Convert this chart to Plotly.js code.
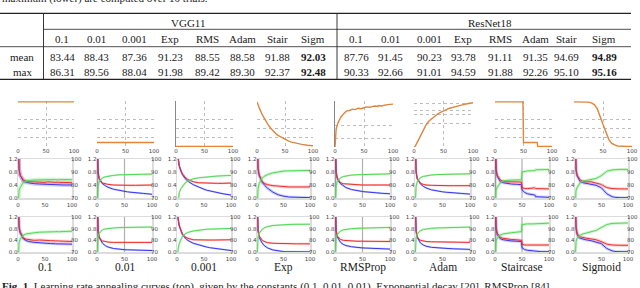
<!DOCTYPE html>
<html><head><meta charset="utf-8">
<script src="https://cdn.plot.ly/plotly-3.0.1.min.js"></script>
<style>html,body{margin:0;padding:0;background:#fff;overflow:hidden}#chart{width:640px;height:288px}</style>
</head><body><div id="chart"></div>
<script>
// ---------- table data ----------
const methodsShort = ['0.1','0.01','0.001','Exp','RMS','Adam','Stair','Sigm'];
const vggMean = ['83.44','88.43','87.36','91.23','88.55','88.58','91.88','92.03'];
const vggMax  = ['86.31','89.56','88.04','91.98','89.42','89.30','92.37','92.48'];
const resMean = ['87.76','91.45','90.23','93.78','91.11','91.35','94.69','94.89'];
const resMax  = ['90.33','92.66','91.01','94.59','91.88','92.26','95.10','95.16'];
const methodsLong = ['0.1','0.01','0.001','Exp','RMSProp','Adam','Staircase','Sigmoid'];

// ---------- learning-rate curves (top row) ----------
const lrEpochs = [0,2,5,10,15,20,25,30,35,40,45,49,50,55,60,65,70,74,75,80,90,100];
const lrConst01  = [0.1,0.1,0.1,0.1,0.1,0.1,0.1,0.1,0.1,0.1,0.1,0.1,0.1,0.1,0.1,0.1,0.1,0.1,0.1,0.1,0.1,0.1];
const lrConst001 = [0.01,0.01,0.01,0.01,0.01,0.01,0.01,0.01,0.01,0.01,0.01,0.01,0.01,0.01,0.01,0.01,0.01,0.01,0.01,0.01,0.01,0.01];
const lrConst0001= [0.001,0.001,0.001,0.001,0.001,0.001,0.001,0.001,0.001,0.001,0.001,0.001,0.001,0.001,0.001,0.001,0.001,0.001,0.001,0.001,0.001,0.001];
const lrExp  = [0.1,0.093,0.084,0.07,0.058,0.049,0.041,0.034,0.028,0.024,0.02,0.017,0.0165,0.014,0.0115,0.0097,0.008,0.007,0.0068,0.0057,0.004,0.0027];
const lrRMS  = [0,0.04,0.053,0.066,0.074,0.08,0.081,0.084,0.083,0.086,0.085,0.088,0.087,0.089,0.088,0.09,0.091,0.09,0.092,0.091,0.094,0.095];
const lrAdam = [0,0.0015,0.009,0.023,0.036,0.048,0.057,0.063,0.069,0.073,0.077,0.08,0.08,0.083,0.086,0.088,0.09,0.092,0.092,0.093,0.096,0.098];
const lrStair= [0.1,0.1,0.1,0.1,0.1,0.1,0.1,0.1,0.1,0.1,0.1,0.1,0.01,0.01,0.01,0.01,0.01,0.01,0.001,0.001,0.001,0.001];
const lrSig  = [0.1,0.1,0.1,0.1,0.1,0.0998,0.0995,0.098,0.094,0.085,0.07,0.054,0.05,0.032,0.017,0.008,0.004,0.0025,0.0022,0.0015,0.0011,0.001];
const lrSeries = [lrConst01,lrConst001,lrConst0001,lrExp,lrRMS,lrAdam,lrStair,lrSig];

// ---------- training curves ----------
const epochs = [0,1,2,4,7,10,15,20,30,40,49,50,55,60,70,74,75,85,100];
// VGG11
const vgg01_train = [2.3,1.15,0.9,0.7,0.58,0.52,0.48,0.46,0.44,0.43,0.42,0.42,0.415,0.41,0.41,0.405,0.405,0.40,0.40];
const vgg01_test  = [2.3,1.1,0.85,0.7,0.6,0.55,0.52,0.5,0.5,0.49,0.49,0.48,0.5,0.49,0.48,0.49,0.48,0.48,0.47];
const vgg01_acc   = [60,74,76,78,80.5,82,83,83.5,83.8,84,84,84.2,83.8,84.1,84.2,83.9,84.1,84.2,84.1];
const vgg001_train= [2.3,1.1,0.8,0.6,0.5,0.44,0.38,0.33,0.27,0.23,0.2,0.2,0.19,0.18,0.17,0.16,0.16,0.14,0.115];
const vgg001_test = [2.3,1.0,0.75,0.6,0.5,0.46,0.43,0.42,0.4,0.39,0.39,0.39,0.39,0.39,0.39,0.39,0.39,0.39,0.4];
const vgg001_acc  = [60,75,79,82.5,84.5,85.5,86.3,86.8,87.4,87.8,88,88,88,88.1,88.2,88.2,88.2,88.3,88.4];
const vgg0001_train=[2.3,1.5,1.25,1.0,0.82,0.72,0.6,0.52,0.41,0.33,0.27,0.27,0.24,0.22,0.18,0.17,0.165,0.13,0.09];
const vgg0001_test= [2.3,1.5,1.25,1.0,0.83,0.75,0.64,0.57,0.5,0.47,0.46,0.46,0.46,0.46,0.45,0.45,0.45,0.45,0.46];
const vgg0001_acc = [55,62,68,74,77,79,81.5,83,84.7,85.5,86,86,86.3,86.5,86.8,86.9,86.9,87.1,87.4];
const vggExp_train= [2.3,1.2,0.9,0.7,0.56,0.48,0.38,0.3,0.18,0.1,0.06,0.06,0.045,0.03,0.02,0.018,0.017,0.012,0.01];
const vggExp_test = [2.3,1.2,0.9,0.72,0.58,0.5,0.44,0.41,0.38,0.36,0.35,0.35,0.345,0.34,0.34,0.34,0.34,0.34,0.34];
const vggExp_acc  = [60,73,77,81,84,85.5,87,88,89.3,90.2,90.7,90.7,90.8,90.9,91,91.1,91.1,91.1,91.2];
const vggRMS_train= [2.3,1.1,0.8,0.62,0.5,0.44,0.37,0.32,0.26,0.22,0.2,0.2,0.19,0.18,0.16,0.155,0.155,0.145,0.13];
const vggRMS_test = [2.3,1.05,0.8,0.62,0.52,0.47,0.44,0.43,0.41,0.41,0.4,0.4,0.4,0.4,0.4,0.4,0.4,0.4,0.4];
const vggRMS_acc  = [60,75,79,82.5,84.5,85.5,86.5,87,87.6,87.9,88.1,88.1,88.1,88.2,88.3,88.3,88.3,88.4,88.6];
const vggAdam_train=[2.3,1.1,0.8,0.6,0.49,0.43,0.36,0.31,0.25,0.21,0.19,0.19,0.18,0.17,0.155,0.15,0.15,0.14,0.12];
const vggAdam_test= [2.3,1.05,0.8,0.6,0.5,0.45,0.42,0.4,0.39,0.38,0.38,0.38,0.38,0.38,0.38,0.38,0.38,0.38,0.38];
const vggAdam_acc = [60,75,79,82.5,84.5,85.7,86.6,87.1,87.7,88,88.2,88.2,88.2,88.3,88.4,88.4,88.4,88.5,88.6];
const vggStair_train=[2.3,1.15,0.88,0.68,0.56,0.5,0.47,0.45,0.43,0.42,0.41,0.25,0.17,0.13,0.1,0.09,0.04,0.025,0.02];
const vggStair_test= [2.3,1.1,0.85,0.7,0.6,0.55,0.52,0.5,0.5,0.5,0.49,0.32,0.29,0.29,0.31,0.31,0.29,0.28,0.28];
const vggStair_acc = [60,74,76,78,80.5,82,83,83.5,83.8,84,84,90,90.6,90.8,91,91,91.7,91.8,91.9];
const vggSig_train= [2.3,1.15,0.88,0.68,0.56,0.5,0.47,0.45,0.43,0.39,0.32,0.31,0.22,0.13,0.04,0.025,0.022,0.01,0.01];
const vggSig_test = [2.3,1.1,0.85,0.7,0.6,0.55,0.52,0.5,0.5,0.47,0.42,0.41,0.36,0.32,0.29,0.285,0.285,0.28,0.28];
const vggSig_acc  = [60,74,76,78,80.5,82,83,83.5,84,85,87,87.3,89,90.6,91.6,91.8,91.8,92,92];
// ResNet18
const res01_train = [2.3,1.1,0.85,0.65,0.52,0.45,0.39,0.36,0.33,0.31,0.3,0.3,0.295,0.29,0.28,0.28,0.28,0.275,0.27];
const res01_test  = [2.3,1.1,0.85,0.7,0.56,0.48,0.44,0.42,0.4,0.41,0.39,0.4,0.38,0.39,0.38,0.37,0.38,0.37,0.36];
const res01_acc   = [60,74,78,81,83,84.5,85.5,86,86.5,87,87,87.2,86.8,87.2,87.4,87.5,87.3,87.6,87.8];
const res001_train= [2.3,1.0,0.7,0.5,0.38,0.3,0.22,0.17,0.12,0.09,0.08,0.08,0.075,0.07,0.06,0.058,0.058,0.052,0.05];
const res001_test = [2.3,1.0,0.72,0.52,0.42,0.38,0.35,0.34,0.33,0.33,0.33,0.33,0.33,0.33,0.33,0.33,0.33,0.33,0.33];
const res001_acc  = [60,78,83,86,88,89,89.8,90.2,90.6,90.9,91,91,91.1,91.1,91.2,91.2,91.2,91.3,91.4];
const res0001_train=[2.3,1.4,1.15,0.9,0.72,0.6,0.48,0.4,0.3,0.24,0.19,0.19,0.17,0.15,0.12,0.11,0.11,0.08,0.05];
const res0001_test= [2.3,1.4,1.15,0.92,0.75,0.62,0.52,0.47,0.42,0.41,0.41,0.41,0.41,0.41,0.41,0.41,0.41,0.41,0.42];
const res0001_acc = [55,64,72,77,81,83.5,85.5,86.8,88,88.8,89.3,89.3,89.5,89.6,89.8,89.8,89.8,90,90.2];
const resExp_train= [2.3,1.0,0.72,0.5,0.37,0.3,0.2,0.14,0.07,0.03,0.015,0.015,0.01,0.008,0.006,0.005,0.005,0.005,0.005];
const resExp_test = [2.3,1.0,0.75,0.55,0.45,0.4,0.35,0.32,0.3,0.29,0.28,0.28,0.28,0.28,0.28,0.28,0.28,0.28,0.28];
const resExp_acc  = [60,78,83,86,88,89.5,91,91.8,92.7,93.2,93.5,93.5,93.55,93.6,93.7,93.7,93.7,93.75,93.8];
const resRMS_train= [2.3,1.0,0.72,0.52,0.4,0.33,0.26,0.22,0.18,0.15,0.14,0.14,0.135,0.13,0.12,0.118,0.118,0.11,0.1];
const resRMS_test = [2.3,1.0,0.75,0.55,0.47,0.43,0.4,0.39,0.38,0.37,0.37,0.37,0.37,0.37,0.37,0.365,0.365,0.36,0.36];
const resRMS_acc  = [60,78,82,85,87,88,89,89.5,90,90.3,90.5,90.5,90.6,90.7,90.8,90.8,90.8,90.9,91.1];
const resAdam_train=[2.3,1.0,0.7,0.5,0.38,0.31,0.24,0.2,0.16,0.14,0.13,0.13,0.125,0.12,0.11,0.105,0.105,0.1,0.09];
const resAdam_test= [2.3,1.0,0.72,0.53,0.44,0.4,0.37,0.36,0.35,0.345,0.34,0.34,0.34,0.34,0.34,0.34,0.34,0.335,0.33];
const resAdam_acc = [60,78,82.5,85.5,87.3,88.3,89.3,89.8,90.3,90.6,90.8,90.8,90.9,91,91.1,91.1,91.1,91.2,91.35];
const resStair_train=[2.3,1.1,0.8,0.6,0.5,0.45,0.42,0.4,0.38,0.37,0.36,0.15,0.08,0.06,0.045,0.04,0.02,0.012,0.01];
const resStair_test= [2.3,1.1,0.85,0.65,0.55,0.5,0.47,0.45,0.43,0.42,0.4,0.27,0.24,0.24,0.25,0.25,0.24,0.24,0.24];
const resStair_acc = [60,75,79,82,83.5,84.5,85.5,86,86.5,87,87.5,93.5,94,94.1,94.1,94.1,94.6,94.7,94.7];
const resSig_train= [2.3,1.1,0.8,0.6,0.5,0.47,0.44,0.42,0.39,0.35,0.29,0.28,0.2,0.12,0.04,0.02,0.018,0.01,0.01];
const resSig_test = [2.3,1.1,0.85,0.65,0.56,0.52,0.49,0.48,0.45,0.42,0.36,0.35,0.3,0.27,0.24,0.235,0.235,0.23,0.23];
const resSig_acc  = [60,75,79,82,83.5,84.5,85.5,86,87,88.5,90.8,91,92.3,93.5,94.5,94.6,94.6,94.9,94.9];

const curves = [
  [vgg01_train,vgg01_test,vgg01_acc],[vgg001_train,vgg001_test,vgg001_acc],[vgg0001_train,vgg0001_test,vgg0001_acc],[vggExp_train,vggExp_test,vggExp_acc],
  [vggRMS_train,vggRMS_test,vggRMS_acc],[vggAdam_train,vggAdam_test,vggAdam_acc],[vggStair_train,vggStair_test,vggStair_acc],[vggSig_train,vggSig_test,vggSig_acc],
  [res01_train,res01_test,res01_acc],[res001_train,res001_test,res001_acc],[res0001_train,res0001_test,res0001_acc],[resExp_train,resExp_test,resExp_acc],
  [resRMS_train,resRMS_test,resRMS_acc],[resAdam_train,resAdam_test,resAdam_acc],[resStair_train,resStair_test,resStair_acc],[resSig_train,resSig_test,resSig_acc]
];

// ---------- layout helpers (styling only) ----------
const W=640,H=288;
const px=x=>x/W, py=y=>1-y/H;
const serif='Liberation Serif, Times New Roman, serif';
const ink='#1a1a1a';
const tickFont={family:'DejaVu Sans, sans-serif',size:5.5,color:'#444'};
const lrX=[[18,74],[97,154],[176,233],[257,313],[335,393],[414,473],[495,552],[574,632]];
const lrGrid=[[0,0.02,0.04,0.06],[0,0.02,0.04,0.06],[0,0.02,0.04,0.06],[0,0.02,0.04,0.06],[0,0.018,0.047],[0,0.053,0.071,0.082,0.096],[0,0.02,0.04,0.06],[0,0.02,0.04,0.06]];
const lrLeftLine=[false,false,true,false,true,false,false,false];
const bx=[[18,72],[97,152],[177,231],[257,310],[335,390],[415,470],[495,549],[575,628]];
const rowY=[[159,198],[217,252]];
const bandW=[4,2,2,3,2,2,3,3, 3,2,2,2,2,2,3,3];
const vmark=[false,true,false,false,true,false,true,false, false,true,false,false,true,false,true,false];

const data=[];
const layout={width:640,height:288,margin:{l:0,r:0,t:0,b:0},paper_bgcolor:'#fff',plot_bgcolor:'rgba(0,0,0,0)',showlegend:false,annotations:[],shapes:[]};

// top LR charts
lrSeries.forEach((s,k)=>{
  const n=k+1;
  layout['xaxis'+n]={domain:[px(lrX[k][0]),px(lrX[k][1])],anchor:'y'+n,range:[0,100],tickvals:[0,50,100],ticks:'',ticklabelstandoff:-1,showgrid:true,gridcolor:'#bdbdbd',griddash:'dot',gridwidth:1,zeroline:false,showline:false,tickfont:tickFont,fixedrange:true};
  layout['yaxis'+n]={domain:[py(147),py(101)],anchor:'x'+n,range:[0,0.102],tickvals:lrGrid[k],showticklabels:false,ticks:'',showgrid:true,gridcolor:'#bdbdbd',griddash:'dot',gridwidth:1,zeroline:false,showline:lrLeftLine[k],linecolor:'#888',linewidth:1.5,fixedrange:true};
  data.push({x:lrEpochs,y:s,xaxis:'x'+n,yaxis:'y'+n,mode:'lines',line:{color:'#e0853e',width:1.4},hoverinfo:'skip'});
});

// training curves
const colBlue='rgb(55,55,240)', colRed='rgb(238,45,45)', colGreen='rgb(85,215,85)';
const bandBlue='rgba(90,90,245,0.28)', bandRed='rgba(245,80,80,0.28)', bandGreen='rgba(100,220,100,0.3)';
curves.forEach((c,j)=>{
  const n=9+j, m=25+j, row=j<8?0:1, col=j%8;
  layout['xaxis'+n]={domain:[px(bx[col][0]),px(bx[col][1])],anchor:'y'+n,range:[0,100],tickvals:[0,50,100],ticks:'',ticklabelstandoff:1,showgrid:false,zeroline:false,showline:true,mirror:true,linecolor:'#dcdcdc',linewidth:1.5,tickfont:tickFont,fixedrange:true};
  layout['yaxis'+n]={domain:[py(rowY[row][1]),py(rowY[row][0])],anchor:'x'+n,range:[0,1.2],tickvals:[0,0.4,0.8,1.2],ticktext:['0.0','0.4','0.8','1.2'],ticks:'',ticklabelstandoff:-2,showgrid:false,zeroline:false,showline:true,mirror:true,linecolor:'#dcdcdc',linewidth:1.5,tickfont:tickFont,fixedrange:true};
  layout['yaxis'+m]={overlaying:'y'+n,anchor:'x'+n,side:'right',range:[70,100],tickvals:[70,80,90,100],ticks:'',ticklabelstandoff:-2,showgrid:false,zeroline:false,showline:false,tickfont:tickFont,fixedrange:true};
  if(vmark[j]){
    layout.shapes.push({type:'line',xref:'x'+n,yref:'y'+n+' domain',x0:50,x1:50,y0:0,y1:1,line:{color:'#b0b0b0',width:1.2},layer:'below'});
    layout.shapes.push({type:'line',xref:'x'+n,yref:'y'+n+' domain',x0:0.6,x1:0.6,y0:0,y1:1,line:{color:'#999',width:2},layer:'below'});
  }
  const w=bandW[j];
  data.push({x:epochs,y:c[0],xaxis:'x'+n,yaxis:'y'+n,mode:'lines',line:{color:bandBlue,width:w},hoverinfo:'skip'});
  data.push({x:epochs,y:c[1],xaxis:'x'+n,yaxis:'y'+n,mode:'lines',line:{color:bandRed,width:w},hoverinfo:'skip'});
  data.push({x:epochs,y:c[0],xaxis:'x'+n,yaxis:'y'+n,mode:'lines',line:{color:colBlue,width:1},hoverinfo:'skip'});
  data.push({x:epochs,y:c[1],xaxis:'x'+n,yaxis:'y'+n,mode:'lines',line:{color:colRed,width:1},hoverinfo:'skip'});
  data.push({x:epochs,y:c[2],xaxis:'x'+n,yaxis:'y'+m,mode:'lines',line:{color:bandGreen,width:w},hoverinfo:'skip'});
  data.push({x:epochs,y:c[2],xaxis:'x'+n,yaxis:'y'+m,mode:'lines',line:{color:colGreen,width:1},hoverinfo:'skip'});
});

// ---------- table (annotations + rules) ----------
function txt(x,y,t,size,opts){layout.annotations.push(Object.assign({xref:'paper',yref:'paper',x:px(x),y:py(y),text:t,showarrow:false,xanchor:'center',yanchor:'middle',font:{family:serif,size:size||11,color:ink}},opts||{}));}
function rule(x0,y0,x1,y1,w){layout.shapes.push({type:'line',xref:'paper',yref:'paper',x0:px(x0),x1:px(x1),y0:py(y0),y1:py(y1),line:{color:'#222',width:w||1}});}
const vggCx=[62,96,134,170,207,242,277,313];
const resCx=[356,390,429,463,500,535,566,604];
txt(0,-1.5,'maximum (lower) are computed over 10 trials.',11,{xanchor:'left'});
rule(0,13.3,631,13.3,1.2);
rule(43.5,29.3,631,29.3,0.8);
rule(0,46.7,631,46.7,0.8);
rule(0,79.3,631,79.3,1.2);
rule(43.5,13.3,43.5,79.3,0.9);
rule(337,13.3,337,79.3,0.9);
txt(188,22.5,'VGG11');
txt(490,22.5,'ResNet18');
txt(22,56.7,'mean');
txt(22,71.7,'max');
methodsShort.forEach((m,i)=>{
  const b=i===7;
  txt(vggCx[i],39,m); txt(resCx[i],39,m);
  txt(vggCx[i],56.7,b?'<b>'+vggMean[i]+'</b>':vggMean[i]);
  txt(vggCx[i],71.7,b?'<b>'+vggMax[i]+'</b>':vggMax[i]);
  txt(resCx[i],56.7,b?'<b>'+resMean[i]+'</b>':resMean[i]);
  txt(resCx[i],71.7,b?'<b>'+resMax[i]+'</b>':resMax[i]);
});
// column labels under the grid
methodsLong.forEach((m,i)=>{ txt((bx[i][0]+bx[i][1])/2,267,m,11.5); });
txt(0,286,'<b>Fig. 1.</b> Learning rate annealing curves (top), given by the constants (0.1, 0.01, 0.01), Exponential decay [20], RMSProp [84]',11,{xanchor:'left'});

Plotly.newPlot('chart',data,layout,{staticPlot:true,displayModeBar:false});
</script></body></html>
